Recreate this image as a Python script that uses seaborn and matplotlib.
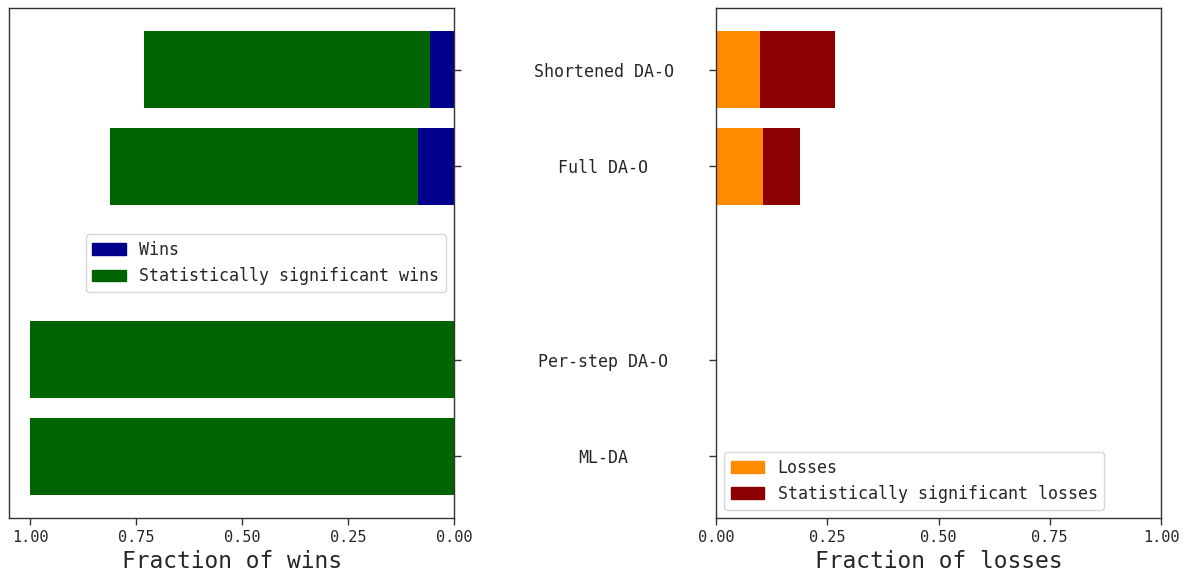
import matplotlib
matplotlib.use("Agg")
import matplotlib.pyplot as plt
from matplotlib.patches import Patch
import pandas as pd
import seaborn as sns

# Methods and their vertical slots (slot 2 is left empty as a separator)
methods = ["ML-DA", "Per-step DA-O", "Full DA-O", "Shortened DA-O"]
positions = [0, 1, 3, 4]

# Fractions of runs: plain wins/losses and statistically significant ones
wins = [0.0, 0.0, 0.085, 0.056]
sig_wins = [1.0, 1.0, 0.727, 0.676]
losses = [0.0, 0.0, 0.106, 0.099]
sig_losses = [0.0, 0.0, 0.083, 0.168]

x_ticks = [0.0, 0.25, 0.5, 0.75, 1.0]

sns.set_style("ticks")
plt.rcParams["font.family"] = ["DejaVu Sans Mono"]
plt.rcParams["axes.edgecolor"] = "#333333"
plt.rcParams["axes.linewidth"] = 1.0

df = pd.DataFrame({
    "method": methods,
    "pos": positions,
    "wins": wins,
    "sig_wins": sig_wins,
    "losses": losses,
    "sig_losses": sig_losses,
})
df["wins_total"] = df["wins"] + df["sig_wins"]
df["losses_total"] = df["losses"] + df["sig_losses"]

fig = plt.figure(figsize=(11.89, 5.81), dpi=100)
ax_w = fig.add_axes([9 / 1189, 1 - 518 / 581, 445 / 1189, 510 / 581])
ax_l = fig.add_axes([716 / 1189, 1 - 518 / 581, 445 / 1189, 510 / 581])

bar_kw = dict(orient="h", native_scale=True, errorbar=None,
              saturation=1, linewidth=0)

# Wins panel: significant wins stacked after the plain wins
sns.barplot(data=df, x="wins_total", y="pos", color="darkgreen", ax=ax_w, **bar_kw)
sns.barplot(data=df, x="wins", y="pos", color="darkblue", ax=ax_w, **bar_kw)

# Losses panel
sns.barplot(data=df, x="losses_total", y="pos", color="darkred", ax=ax_l, **bar_kw)
sns.barplot(data=df, x="losses", y="pos", color="darkorange", ax=ax_l, **bar_kw)

for ax in (ax_w, ax_l):
    ax.set_ylim(-0.64, 4.64)
    ax.set_yticks(positions)
    ax.set_xticks(x_ticks)
    ax.set_xticklabels([f"{t:.2f}" for t in x_ticks], fontsize=11)
    ax.tick_params(axis="x", length=5, width=1, color="#333333")
    ax.set_ylabel("")
    for s in ax.spines.values():
        s.set_visible(True)

ax_w.set_xlim(1.05, 0.0)
ax_w.yaxis.tick_right()
ax_w.tick_params(axis="y", length=5, width=1, color="#333333", labelright=False)
ax_w.set_xlabel("Fraction of wins", fontsize=16.5)

ax_l.set_xlim(0.0, 1.0)
ax_l.set_yticklabels(methods, fontsize=12, ha="center")
ax_l.tick_params(axis="y", length=5, width=1, color="#333333", pad=76)
ax_l.set_xlabel("Fraction of losses", fontsize=16.5)

ax_w.legend(handles=[Patch(color="darkblue", label="Wins"),
                     Patch(color="darkgreen", label="Statistically significant wins")],
            loc="center right", fontsize=12)
ax_l.legend(handles=[Patch(color="darkorange", label="Losses"),
                     Patch(color="darkred", label="Statistically significant losses")],
            loc="lower left", fontsize=12)

fig.savefig("out.png", dpi=100)
